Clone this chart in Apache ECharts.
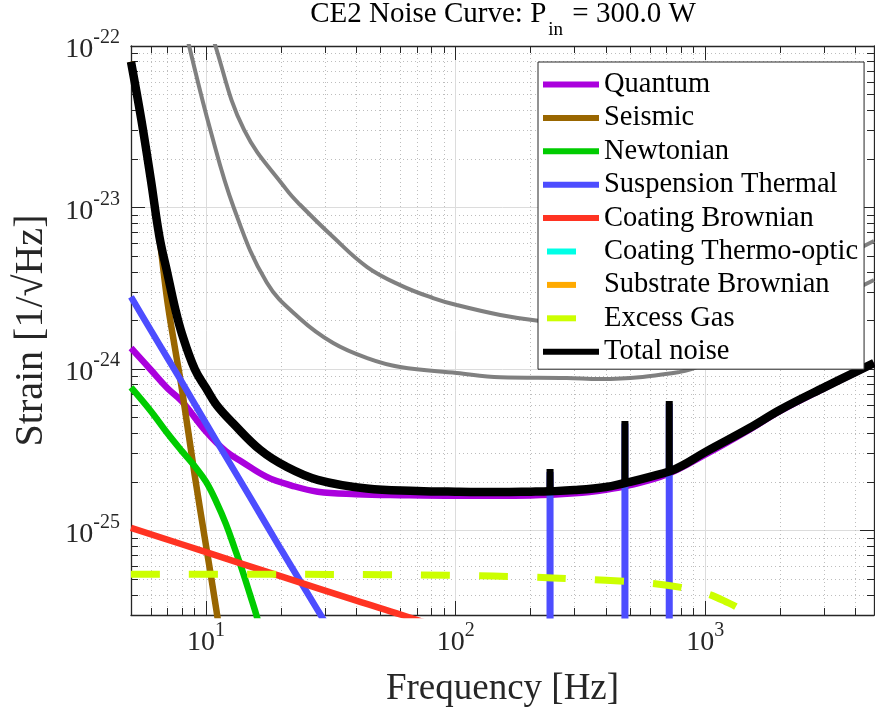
<!DOCTYPE html>
<html>
<head>
<meta charset="utf-8">
<script src="https://cdn.jsdelivr.net/npm/echarts@6/dist/echarts.min.js"></script>
<style>
  html, body { margin: 0; padding: 0; background: #fff; }
  #chart { width: 875px; height: 721px; }
</style>
</head>
<body>
<div id="chart"></div>
<script>
const FONT = '"Liberation Serif", "Times New Roman", serif';
const INK = "#262626";
// y data is handed to the log axis in units of 1e-24 /rtHz
const UNIT = 1e-24;

// ---- noise budget, strain ASD [1/rtHz] vs frequency [Hz] ----
const quantumF = [5, 6, 7, 8, 10, 12, 14, 17.5, 22, 28, 40, 60, 100, 200, 300, 400, 500, 700, 1000, 1500, 2000, 3000, 4750];
const quantum = [1.35e-24, 9.9e-25, 7.6e-25, 6.3e-25, 4.1e-25, 3.1e-25, 2.65e-25, 2.15e-25, 1.9e-25, 1.74e-25, 1.68e-25, 1.655e-25, 1.64e-25, 1.65e-25, 1.7e-25, 1.79e-25, 1.91e-25, 2.22e-25, 2.95e-25, 4.2e-25, 5.5e-25, 7.6e-25, 1.08e-24];

const seismicF = [5, 5.5, 6, 6.5, 7, 7.5, 8, 9, 10, 11, 12];
const seismic = [8e-23, 3.5e-23, 1.5e-23, 6.5e-24, 2.6e-24, 1.35e-24, 7.5e-25, 2.2e-25, 8e-26, 3.2e-26, 1.3e-26];

const newtonianF = [5, 6, 7, 8, 9, 10, 11, 12, 13, 14, 15, 16, 18];
const newtonian = [7.7e-25, 5.5e-25, 4.0e-25, 3.1e-25, 2.5e-25, 2.0e-25, 1.5e-25, 1.1e-25, 7.8e-26, 5.6e-26, 4.0e-26, 2.9e-26, 1.5e-26];

const suspF = [5, 6, 7, 8, 10, 12, 15, 20, 25, 30, 40, 60];
const susp = [2.8e-24, 1.74e-24, 1.17e-24, 8.3e-25, 4.6e-25, 2.87e-25, 1.61e-25, 7.6e-26, 4.3e-26, 2.7e-26, 1.3e-26, 5e-27];

const coatBrF = [5, 10, 20, 40, 61, 100, 1000, 4750];
const coatBr = [1.04e-25, 7.35e-26, 5.2e-26, 3.68e-26, 3.0e-26, 2.33e-26, 7.4e-27, 3.4e-27];

const coatToF = [5, 20, 100, 1000, 4750];
const coatTo = [4e-28, 6e-28, 1.2e-27, 2.5e-27, 4e-27];

const subBrF = [5, 20, 100, 1000, 4750];
const subBr = [1.5e-27, 9e-28, 4e-28, 1.3e-28, 6e-29];

const gasF = [5, 20, 50, 100, 200, 300, 400, 600, 800, 1000, 1200, 1400, 1600, 2000, 3000, 4750];
const gas = [5.37e-26, 5.36e-26, 5.33e-26, 5.28e-26, 5.15e-26, 5.02e-26, 4.92e-26, 4.72e-26, 4.45e-26, 4.1e-26, 3.65e-26, 3.2e-26, 2.6e-26, 1.7e-26, 8e-27, 3.5e-27];

const totalF = [5, 5.5, 6, 6.5, 7, 7.5, 8, 9, 10, 11, 12.85, 16.5, 21, 28, 44, 70, 100, 150, 200, 239, 300, 400, 477, 500, 600, 718, 800, 1000, 1500, 2000, 3000, 4750];
const total = [8e-23, 3.5e-23, 1.5e-23, 6.6e-24, 3.9e-24, 2.4e-24, 1.65e-24, 1.0e-24, 7.6e-25, 6e-25, 4.6e-25, 3.15e-25, 2.48e-25, 2.06e-25, 1.82e-25, 1.76e-25, 1.74e-25, 1.73e-25, 1.74e-25, 1.75e-25, 1.78e-25, 1.86e-25, 1.97e-25, 2.0e-25, 2.15e-25, 2.32e-25, 2.5e-25, 3.06e-25, 4.3e-25, 5.6e-25, 7.7e-25, 1.09e-24];

// violin modes: frequency, peak of total noise, peak of suspension thermal
const violinF = [239, 477, 718];
const violinTotal = [2.4e-25, 4.77e-25, 6.34e-25];
const violinBase = [1.75e-25, 1.97e-25, 2.32e-25];
const violinSusp = [2.3e-25, 4.6e-25, 6.1e-25];
const violinFloor = 1e-28;

// reference curves (grey, no legend entry)
const refAF = [10.5, 10.9, 14.2, 21, 23.8, 32.3, 44.2, 59.9, 81.2, 101, 151, 214, 300, 400, 600, 1000, 2000, 3000, 4750];
const refA = [1.35e-22, 1e-22, 3.02e-23, 1.29e-23, 1.04e-23, 6.56e-24, 4.28e-24, 3.31e-24, 2.75e-24, 2.49e-24, 2.16e-24, 1.99e-24, 1.92e-24, 1.92e-24, 2.0e-24, 2.4e-24, 3.4e-24, 4.4e-24, 6.2e-24];
const refBF = [8.2, 8.55, 10.4, 12.9, 17.5, 23.8, 32.3, 44.2, 59.9, 101, 151, 279, 379, 794, 1000, 2000, 3000, 4750];
const refB = [1.35e-22, 1e-22, 3.02e-23, 1e-23, 3.43e-24, 2.05e-24, 1.45e-24, 1.17e-24, 1.03e-24, 9.45e-25, 8.9e-25, 8.8e-25, 8.67e-25, 9.6e-25, 1.08e-24, 1.8e-24, 2.5e-24, 3.56e-24];

// ticks
const xMajor = [10, 100, 1000];
const yMajorExp = [-25, -24, -23, -22];
const xRange = [5, 4750];
const yRange = [3e-26, 1e-22];

const u = (v) => Number((v / UNIT).toPrecision(12));

function minorTicks(decades, lo, hi) {
  const out = [];
  decades.forEach((d) => {
    for (let k = 2; k <= 9; k++) {
      const v = Number((k * d).toPrecision(12));
      if (v > lo * 1.001 && v < hi * 0.999) out.push(v);
    }
  });
  return out;
}
const xMinor = minorTicks([1, 10, 100, 1000], xRange[0], xRange[1]);
const yMinor = minorTicks([0.01, 0.1, 1, 10], u(yRange[0]), u(yRange[1]));
const yMajorU = yMajorExp.map((e) => Number(Math.pow(10, e + 24).toPrecision(12)));

const toPairs = (f, v) => f.map((x, i) => [x, u(v[i])]);

const powRich = {
  b: { fontFamily: FONT, fontSize: 28, lineHeight: 36, verticalAlign: "bottom", color: INK },
  s: { fontFamily: FONT, fontSize: 20, lineHeight: 36, verticalAlign: "top", color: INK },
};
const powLabel = (e) => "{b|10}{s|" + e + "}";

const chart = echarts.init(document.getElementById("chart"));

const xBase = { type: "log", min: xRange[0], max: xRange[1], gridIndex: 0 };
const yBase = { type: "log", min: u(yRange[0]), max: u(yRange[1]), gridIndex: 0 };

const xAxes = [
  {
    ...xBase,
    position: "bottom",
    name: "Frequency [Hz]",
    nameLocation: "middle",
    nameGap: 56,
    nameTextStyle: { fontFamily: FONT, fontSize: 37, color: INK },
    axisLine: { show: true, onZero: false, lineStyle: { color: INK, width: 1.3 } },
    axisTick: { show: true, inside: true, length: 14, customValues: xMajor, lineStyle: { color: INK } },
    axisLabel: {
      customValues: xMajor,
      margin: 6,
      formatter: (v) => powLabel(Math.round(Math.log10(v))),
      rich: powRich,
    },
    splitLine: { show: true, lineStyle: { color: "#dcdcdc", width: 1 } },
  },
  {
    ...xBase,
    position: "bottom",
    axisLine: { show: false },
    axisTick: { show: true, inside: true, length: 7, customValues: xMinor, lineStyle: { color: INK } },
    axisLabel: { show: false },
    splitLine: { show: true, lineStyle: { color: "#bdbdbd", width: 1, type: [1, 3] } },
  },
  {
    ...xBase,
    position: "top",
    axisLine: { show: true, onZero: false, lineStyle: { color: INK, width: 1.3 } },
    axisTick: { show: true, inside: true, length: 14, customValues: xMajor, lineStyle: { color: INK } },
    axisLabel: { show: false },
    splitLine: { show: false },
  },
  {
    ...xBase,
    position: "top",
    axisLine: { show: false },
    axisTick: { show: true, inside: true, length: 7, customValues: xMinor, lineStyle: { color: INK } },
    axisLabel: { show: false },
    splitLine: { show: false },
  },
];

const yAxes = [
  {
    ...yBase,
    position: "left",
    name: "Strain [1/√Hz]",
    nameLocation: "middle",
    nameGap: 80,
    nameTextStyle: { fontFamily: FONT, fontSize: 40, color: INK },
    axisLine: { show: true, onZero: false, lineStyle: { color: INK, width: 1.3 } },
    axisTick: { show: true, inside: true, length: 14, customValues: yMajorU, lineStyle: { color: INK } },
    axisLabel: {
      customValues: yMajorU,
      margin: 11,
      formatter: (v) => powLabel(Math.round(Math.log10(v)) - 24),
      rich: powRich,
    },
    splitLine: { show: true, lineStyle: { color: "#dcdcdc", width: 1 } },
  },
  {
    ...yBase,
    position: "left",
    axisLine: { show: false },
    axisTick: { show: true, inside: true, length: 7, customValues: yMinor, lineStyle: { color: INK } },
    axisLabel: { show: false },
    splitLine: { show: true, lineStyle: { color: "#bdbdbd", width: 1, type: [1, 3] } },
  },
  {
    ...yBase,
    position: "right",
    axisLine: { show: true, onZero: false, lineStyle: { color: INK, width: 1.3 } },
    axisTick: { show: true, inside: true, length: 14, customValues: yMajorU, lineStyle: { color: INK } },
    axisLabel: { show: false },
    splitLine: { show: false },
  },
  {
    ...yBase,
    position: "right",
    axisLine: { show: false },
    axisTick: { show: true, inside: true, length: 7, customValues: yMinor, lineStyle: { color: INK } },
    axisLabel: { show: false },
    splitLine: { show: false },
  },
];

const dash = [29, 29];
function line(name, data, color, width, opts) {
  opts = opts || {};
  return {
    name,
    type: "line",
    xAxisIndex: 0,
    yAxisIndex: 0,
    data,
    symbol: "none",
    showSymbol: false,
    smooth: opts.smooth === undefined ? 0.4 : opts.smooth,
    clip: true,
    silent: true,
    color,
    lineStyle: { color, width, type: opts.type || "solid", cap: "butt" },
    emphasis: { disabled: true },
  };
}

// one short up-and-down path per violin mode
function spikes(name, peaks, bases, color, width) {
  return violinF.map((f, i) =>
    line(name, [[f - 0.4, u(bases[i])], [f, u(peaks[i])], [f + 0.4, u(bases[i])]], color, width, { smooth: false })
  );
}

const series = [
  line("refA", toPairs(refAF, refA), "#808080", 4),
  line("refB", toPairs(refBF, refB), "#808080", 4),
  line("Quantum", toPairs(quantumF, quantum), "#aa00dd", 6.5),
  line("Seismic", toPairs(seismicF, seismic), "#996600", 6.5),
  line("Newtonian", toPairs(newtonianF, newtonian), "#00cc00", 6.5),
  line("Suspension Thermal", toPairs(suspF, susp), "#4d4dff", 6.5),
  ...spikes("Suspension Thermal", violinSusp, violinF.map(() => violinFloor), "#4d4dff", 7),
  line("Coating Brownian", toPairs(coatBrF, coatBr), "#ff3322", 6.5),
  line("Coating Thermo-optic", toPairs(coatToF, coatTo), "#00ffe6", 6.5, { type: dash }),
  line("Substrate Brownian", toPairs(subBrF, subBr), "#ffaa00", 6.5, { type: dash }),
  line("Excess Gas", toPairs(gasF, gas), "#ccff00", 7, { type: dash }),
  line("Total noise", toPairs(totalF, total), "#000000", 8.5),
  ...spikes("Total noise", violinTotal, violinBase, "#000000", 7),
];

const legendNames = ["Quantum", "Seismic", "Newtonian", "Suspension Thermal", "Coating Brownian",
  "Coating Thermo-optic", "Substrate Brownian", "Excess Gas", "Total noise"];
const dashedNames = ["Coating Thermo-optic", "Substrate Brownian", "Excess Gas"];

chart.setOption({
  animation: false,
  backgroundColor: "#ffffff",
  title: {
    left: 503,
    top: 0,
    padding: 0,
    textAlign: "center",
    text: "{m|CE2 Noise Curve: P}{sub|in}{m| = 300.0 W}",
    textStyle: {
      fontWeight: "normal",
      rich: {
        m: { fontFamily: FONT, fontSize: 29, fontWeight: "normal", lineHeight: 40, verticalAlign: "top", color: "#000" },
        sub: { fontFamily: FONT, fontSize: 19, fontWeight: "normal", lineHeight: 40, verticalAlign: "bottom", color: "#000", padding: [0, 2, 0, 2] },
      },
    },
  },
  grid: { left: 131, top: 46, right: 1, bottom: 106, containLabel: false },
  legend: {
    orient: "vertical",
    left: 538,
    top: 62,
    padding: [8, 6, 3, 2],
    itemGap: 4.4,
    itemWidth: 56,
    itemHeight: 12,
    borderColor: INK,
    borderWidth: 1,
    borderRadius: 0,
    backgroundColor: "#ffffff",
    selectedMode: false,
    itemStyle: { opacity: 0 },
    lineStyle: { width: 6 },
    textStyle: { fontFamily: FONT, fontSize: 28.5, lineHeight: 29, color: "#000" },
    data: legendNames.map((n) =>
      dashedNames.includes(n) ? { name: n, lineStyle: { width: 6, dashOffset: -4 } } : { name: n }
    ),
  },
  xAxis: xAxes,
  yAxis: yAxes,
  series,
});
</script>
</body>
</html>
